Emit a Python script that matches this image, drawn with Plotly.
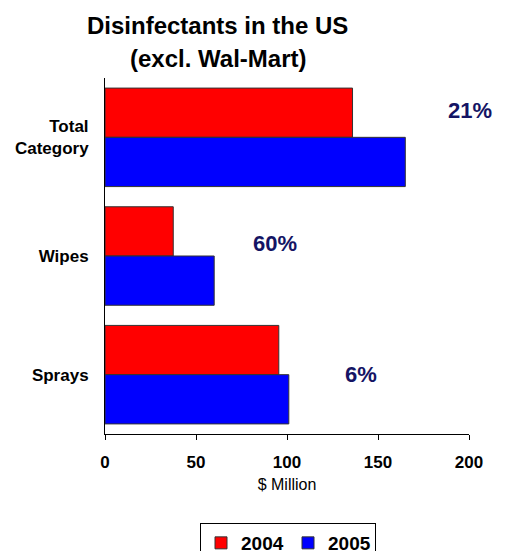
import plotly.graph_objects as go

categories = ["Total Category", "Wipes", "Sprays"]
category_labels = ["Total<br>Category", "Wipes", "Sprays"]
sales_2004 = [136, 37.5, 95.5]
sales_2005 = [165, 60, 101]
growth_labels = ["21%", "60%", "6%"]
x_ticks = [0, 50, 100, 150, 200]

FONT = "Liberation Sans, Arial, sans-serif"
W, H = 506, 551
L, R, T, B = 105, 37, 78, 117
pw, ph = W - L - R, H - T - B

fig = go.Figure()
fig.add_trace(go.Bar(y=categories, x=sales_2004, name="2004", orientation="h",
                     marker=dict(color="#FF0000", line=dict(color="#333333", width=1))))
fig.add_trace(go.Bar(y=categories, x=sales_2005, name="2005", orientation="h",
                     marker=dict(color="#0000FF", line=dict(color="#333333", width=1))))

# growth label placement: (x in data units, x shift px, y shift px)
label_pos = [(200, 1, 27), (93.5, 0, 13), (140.5, 0, 0)]
for cat, lab, (lx, xs, ys) in zip(categories, growth_labels, label_pos):
    fig.add_annotation(x=lx, y=cat, text=lab, showarrow=False, xref="x", yref="y",
                       xshift=xs, yshift=ys,
                       font=dict(family=FONT, size=22, color="#141464", weight="bold"))

for txt, px, py in [("Disinfectants in the US", 217.5, 25), ("(excl. Wal-Mart)", 218, 59)]:
    fig.add_annotation(x=(px - L) / pw, y=(H - B - py) / ph, xref="paper", yref="paper",
                       text=txt, showarrow=False, xanchor="center", yanchor="middle",
                       font=dict(family=FONT, size=24, color="black", weight="bold"))

fig.update_layout(
    width=W, height=H,
    margin=dict(l=L, r=R, t=T, b=B, autoexpand=False),
    paper_bgcolor="white", plot_bgcolor="white",
    barmode="group", bargap=0.17, bargroupgap=0,
    font=dict(family=FONT, color="black"),
    showlegend=True,
    legend=dict(orientation="h", x=(288 - L) / pw, xanchor="center",
                y=(434 - 523) / ph, yanchor="top",
                bordercolor="black", borderwidth=1, bgcolor="white",
                font=dict(family=FONT, size=19, color="black", weight="bold"),
                itemwidth=30, tracegroupgap=0,
                entrywidth=42, entrywidthmode="pixels"),
)
fig.update_xaxes(range=[0, 200], tickvals=x_ticks,
                 ticks="outside", ticklen=5, tickcolor="black", showline=True,
                 linecolor="black", linewidth=1, showgrid=False, zeroline=False,
                 tickfont=dict(family=FONT, size=17, color="black", weight="bold"),
                 ticklabelstandoff=8,
                 title=dict(text="$ Million", font=dict(family=FONT, size=16, color="black"),
                            standoff=7))
fig.update_yaxes(autorange="reversed", tickvals=categories, ticktext=category_labels,
                 showline=True, linecolor="black", linewidth=1, showgrid=False,
                 ticks="", ticklabelstandoff=12,
                 tickfont=dict(family=FONT, size=17, color="black", weight="bold"))

fig.write_html("out.html", config={"displayModeBar": False},
               post_script="document.body.style.margin='0';document.body.style.overflow='hidden';")
